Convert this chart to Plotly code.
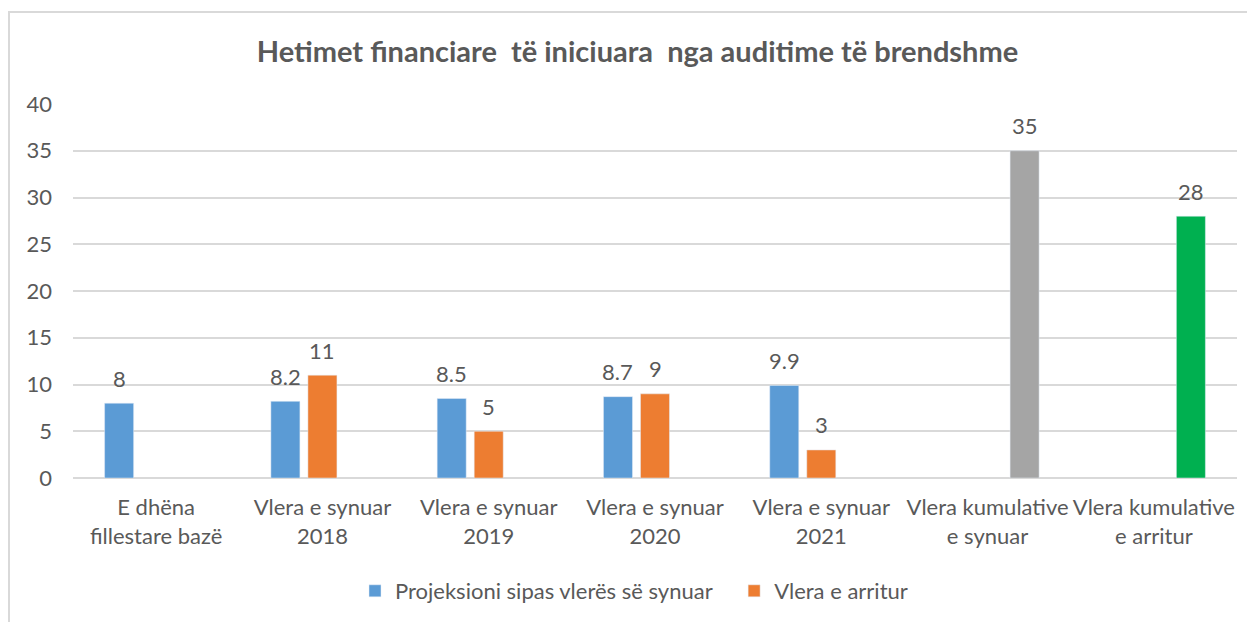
import plotly.graph_objects as go

categories = [
    "E dhëna<br>fillestare bazë",
    "Vlera e synuar<br>2018",
    "Vlera e synuar<br>2019",
    "Vlera e synuar<br>2020",
    "Vlera e synuar<br>2021",
    "Vlera kumulative<br>e synuar",
    "Vlera kumulative<br>e arritur",
]
projeksioni = [8, 8.2, 8.5, 8.7, 9.9, None, None]
arritur = [None, 11, 5, 9, 3, None, None]
kumulative = [None, None, None, None, None, 35, 28]
kumulative_colors = ["#A5A5A5", "#A5A5A5", "#A5A5A5", "#A5A5A5", "#A5A5A5", "#A5A5A5", "#00B050"]

series_names = ["Projeksioni sipas vlerës së synuar", "Vlera e arritur", "Vlera kumulative"]
title_text = "Hetimet financiare\u00a0 të iniciuara\u00a0 nga auditime të brendshme"

FONT = "Lato"
TXT = "#595959"
GRID = "#D9D9D9"
FS = 22

# page has an 8px body margin, so figure coordinates are page coordinates - 8
W, H = 1247, 614
ml, mr, mt, mb = 65, 18, 96, 144
pw, ph = W - ml - mr, H - mt - mb

fig = go.Figure()
fig.add_trace(go.Bar(x=categories, y=projeksioni, name=series_names[0] + "\u00a0\u00a0\u00a0",
                     marker_color="#5B9BD5"))
fig.add_trace(go.Bar(x=categories, y=arritur, name=series_names[1], marker_color="#ED7D31"))
fig.add_trace(go.Bar(x=categories, y=kumulative, name=series_names[2], showlegend=False,
                     marker_color=kumulative_colors))

bargap, bargroupgap = 0.332, 0.216
cat_px = pw / len(categories)
slot_px = cat_px * (1 - bargap) / 3

annotations = []
for s, vals in enumerate([projeksioni, arritur, kumulative]):
    for c, v in zip(categories, vals):
        if v is None:
            continue
        annotations.append(dict(
            x=c, y=v, xref="x", yref="y", text=f"{v:g}", showarrow=False,
            xshift=(s - 1) * slot_px, yshift=25, yanchor="middle", xanchor="center",
            font=dict(family=FONT, size=FS, color=TXT)))

fig.update_layout(
    width=W, height=H,
    margin=dict(l=ml, r=mr, t=mt, b=mb, autoexpand=False),
    paper_bgcolor="white", plot_bgcolor="white",
    barmode="group", bargap=bargap, bargroupgap=bargroupgap,
    font=dict(family=FONT, size=FS, color=TXT),
    title=dict(text=f"<b>{title_text}</b>", font=dict(family=FONT, size=29, color=TXT),
               x=629.5 / W, xref="container", xanchor="center",
               y=1 - 44 / H, yref="container", yanchor="middle"),
    legend=dict(orientation="h", x=(626 - ml) / pw, xanchor="center",
                y=(H - mb - 583) / ph, yanchor="middle",
                font=dict(family=FONT, size=FS, color=TXT),
                itemwidth=30, tracegroupgap=0),
    xaxis=dict(showgrid=False, showline=False, ticks="", ticklabelstandoff=14,
               tickfont=dict(family=FONT, size=FS, color=TXT)),
    yaxis=dict(range=[0, 40], dtick=5, showgrid=True, gridcolor=GRID, gridwidth=2,
               zeroline=True, zerolinecolor=GRID, zerolinewidth=2,
               showline=False, ticks="", ticklabelstandoff=20,
               tickfont=dict(family=FONT, size=FS, color=TXT)),
    annotations=annotations,
    shapes=[dict(type="rect", xref="paper", yref="paper",
                 x0=(1 - ml) / pw, x1=(W + 20 - ml) / pw,
                 y0=(H - mb - (H + 20)) / ph, y1=(H - mb - 4) / ph,
                 line=dict(color=GRID, width=2), fillcolor="rgba(0,0,0,0)", layer="below")],
)

fig.write_html("out.html")
